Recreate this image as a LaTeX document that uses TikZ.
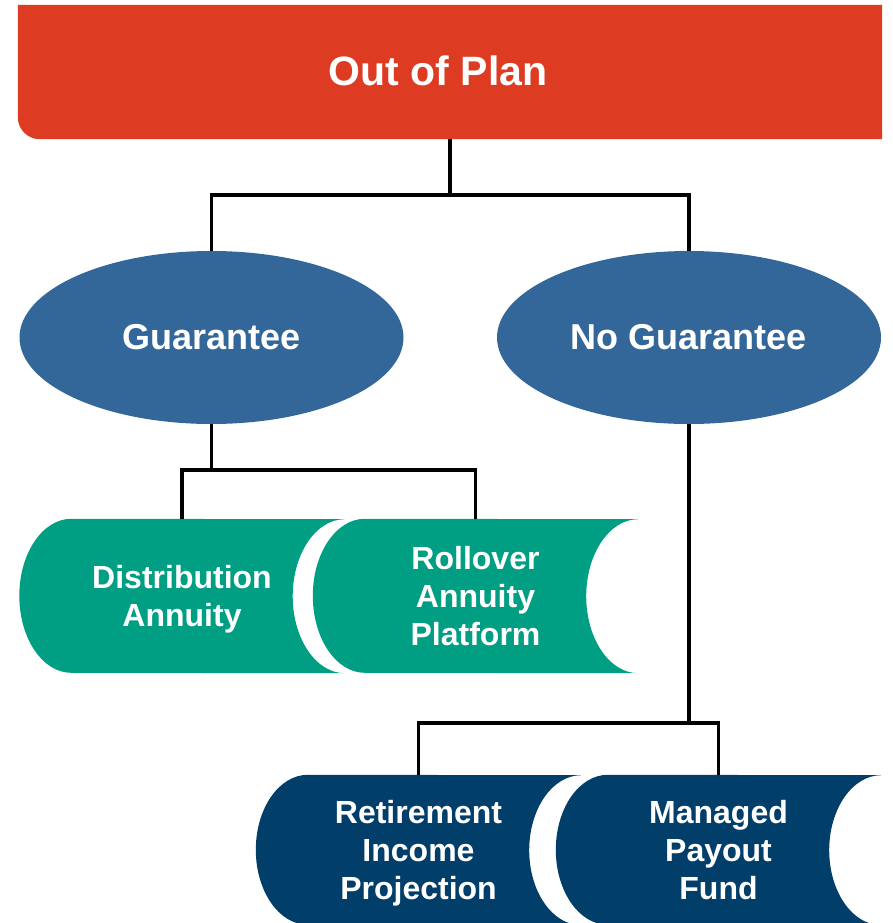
\documentclass[tikz,border=0pt]{standalone}
\usepackage{fontspec}
\setmainfont{Liberation Sans}
\usepackage{tikz}
\usetikzlibrary{shapes.geometric}
\usetikzlibrary{positioning}
\usetikzlibrary{backgrounds}

\definecolor{planred}{RGB}{221,59,34}
\definecolor{guarblue}{RGB}{52,103,153}
\definecolor{annuitygreen}{RGB}{0,158,130}
\definecolor{fundnavy}{RGB}{1,62,106}

\begin{document}
\begin{tikzpicture}[x=1pt, y=1pt,
        plan/.style={rectangle, minimum width=864pt, minimum height=134pt, inner sep=0pt, text=white, font=\bfseries\fontsize{41}{49}\selectfont},
        oval/.style={ellipse, fill=guarblue, minimum width=384pt, minimum height=173pt, inner sep=0pt, text=white, font=\bfseries\fontsize{36}{43}\selectfont},
        barrel/.style={rectangle, minimum width=325pt, inner sep=0pt, align=center, text=white, font=\bfseries\fontsize{32}{38}\selectfont},
        link/.style={black, line width=3.5pt}
      ]
        \useasboundingbox (0,0) rectangle (892,-923);

        \node[plan]    (plan)     at (450,-72)                          {\raisebox{2pt}{Out of Plan}\hspace*{24pt}};
        \node[oval]    (guar)     at (211.5,-337.5)                     {Guarantee};
        \node[oval]    (noguar)   [right of=guar, node distance=477.5pt] {No Guarantee};
        \node[barrel, minimum height=154pt]  (dist)    at (182,-596)     {Distribution\\\raisebox{0pt}[\height][0pt]{Annuity}};
        \node[barrel, minimum height=154pt]  (roll)    [right of=dist, node distance=293.5pt]  {Rollover\\Annuity\\Platform};
        \node[barrel, minimum height=150pt]  (retire)  at (418.5,-850)   {Retirement\\Income\\\raisebox{0pt}[\height][0pt]{Projection}};
        \node[barrel, minimum height=150pt]  (payout)  [right of=retire, node distance=300pt]  {Managed\\Payout\\Fund};

        \begin{scope}[on background layer]
          \fill[planred] (plan.north west) -- ([yshift=22pt]plan.south west) arc[start angle=180, end angle=270, radius=22pt] -- (plan.south east) -- (plan.north east) -- cycle;
          \foreach \n/\c/\r in {dist/annuitygreen/77, roll/annuitygreen/77, retire/fundnavy/75, payout/fundnavy/75}
            \fill[\c] ([xshift=52pt]\n.north west) arc[start angle=90, end angle=270, x radius=52pt, y radius=\r pt] -- (\n.south east) arc[start angle=270, end angle=90, x radius=52pt, y radius=\r pt] -- cycle;
        \end{scope}

        \draw[link] (plan.south) -- ++(0,-56) coordinate (topsplit);
        \draw[link] (guar.north) |- (topsplit) -| (noguar.north);
        \draw[link] (guar.south) -- ++(0,-46) coordinate (guarsplit);
        \draw[link] (dist.north) |- (guarsplit) -| (roll.north);
        \draw[link] (noguar.south) -- ++(0,-299) coordinate (noguarsplit);
        \draw[link] (retire.north) |- (noguarsplit) -| (payout.north);
      \end{tikzpicture}
\end{document}
